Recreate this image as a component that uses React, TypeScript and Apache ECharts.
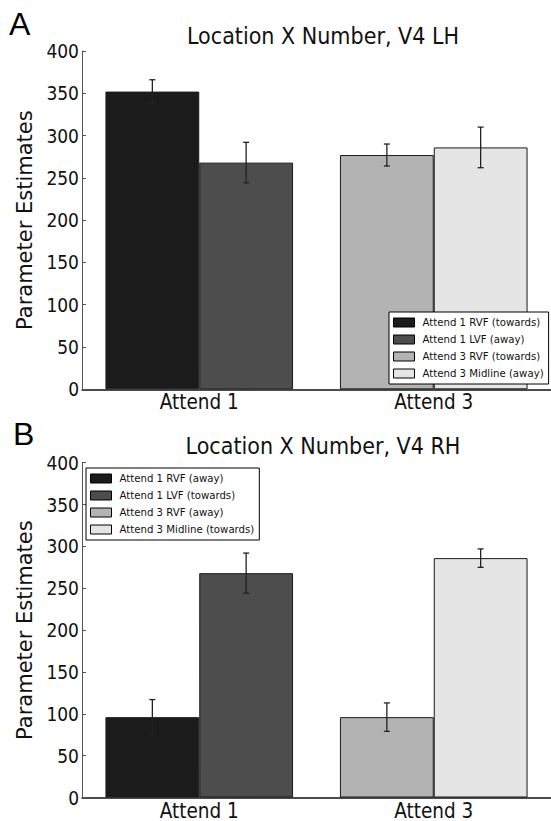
import React, { useEffect, useRef } from "react";
import * as echarts from "echarts";

const categories = ["Attend 1", "Attend 3"];
const yTicks = { min: 0, max: 400, interval: 50 };

// Panel A (V4 LH)
const namesA = [
  "Attend 1 RVF (towards)",
  "Attend 1 LVF (away)",
  "Attend 3 RVF (towards)",
  "Attend 3 Midline (away)",
];
const meansA = [352, 268, 277, 286];
const errsA = [14, 24, 13, 24];

// Panel B (V4 RH)
const namesB = [
  "Attend 1 RVF (away)",
  "Attend 1 LVF (towards)",
  "Attend 3 RVF (away)",
  "Attend 3 Midline (towards)",
];
const meansB = [96, 268, 96, 286];
const errsB = [21, 24, 17, 11];

// which category and which side (left=-1, right=+1) each bar sits on
const barCategory = [0, 0, 1, 1];
const barSide = [-1, 1, -1, 1];
const colors = ["#1b1b1b", "#4d4d4d", "#b3b3b3", "#e5e5e5"];

const COND = "'DejaVu Sans Condensed', 'DejaVu Sans', sans-serif";
const NORM = "'DejaVu Sans', sans-serif";

function buildPanel(idx: number, names: string[], means: number[], errs: number[]) {
  const series: any[] = names.map((name, i) => {
    const data: any[] = categories.map((_, c) => (c === barCategory[i] ? means[i] : "-"));
    return {
      name,
      type: "bar",
      xAxisIndex: idx,
      yAxisIndex: idx,
      stack: `p${idx}_${barSide[i] < 0 ? "L" : "R"}`,
      data,
      barGap: "0%",
      barCategoryGap: "20%",
      itemStyle: { color: colors[i], borderColor: "#1a1a1a", borderWidth: 1 },
      z: 2,
    };
  });
  const errData = means.map((m, i) => [barCategory[i], m - errs[i], m + errs[i], barSide[i]]);
  series.push({
    type: "custom",
    xAxisIndex: idx,
    yAxisIndex: idx,
    z: 5,
    data: errData,
    encode: { x: 0, y: [1, 2] },
    renderItem: (params: any, api: any) => {
      const c = api.value(0);
      const lo = api.value(1);
      const hi = api.value(2);
      const side = api.value(3);
      const band = api.size([1, 0])[0];
      const pLo = api.coord([c, lo]);
      const pHi = api.coord([c, hi]);
      const x = pLo[0] + side * band * 0.2;
      const cap = 3;
      const st = { stroke: "#222", lineWidth: 1.3 };
      return {
        type: "group",
        children: [
          { type: "line", shape: { x1: x, y1: pLo[1], x2: x, y2: pHi[1] }, style: st },
          { type: "line", shape: { x1: x - cap, y1: pLo[1], x2: x + cap, y2: pLo[1] }, style: st },
          { type: "line", shape: { x1: x - cap, y1: pHi[1], x2: x + cap, y2: pHi[1] }, style: st },
        ],
      };
    },
  });
  return series;
}

export default function App() {
  const ref = useRef<HTMLDivElement>(null);
  useEffect(() => {
    if (!ref.current) return;
    const chart = echarts.init(ref.current, undefined, { renderer: "svg" });
    const grids = [
      { left: 82, right: -2, top: 51, height: 338.3 },
      { left: 82, right: -2, top: 462.7, height: 338 },
    ];
    const xAxis = [0, 1].map((i) => ({
      type: "category",
      gridIndex: i,
      data: categories,
      axisLine: { lineStyle: { color: "#111", width: 1.5 } },
      axisTick: { show: false },
      axisLabel: { fontFamily: COND, fontSize: 20.5, color: "#111", margin: 6, lineHeight: 14 },
    }));
    const yAxis = [0, 1].map((i) => ({
      type: "value",
      gridIndex: i,
      min: yTicks.min,
      max: yTicks.max,
      interval: yTicks.interval,
      name: "Parameter Estimates",
      nameLocation: "middle",
      nameGap: 37,
      nameTextStyle: { fontFamily: NORM, fontSize: 21, color: "#111" },
      axisLine: { show: true, lineStyle: { color: "#555", width: 1 } },
      axisTick: { show: true, inside: true, length: 4, lineStyle: { color: "#555" } },
      axisLabel: { fontFamily: COND, fontSize: 19, color: "#111", margin: 3 },
      splitLine: { show: false },
    }));
    const legendCommon = {
      orient: "vertical",
      backgroundColor: "#fff",
      borderColor: "#000",
      borderWidth: 1,
      borderRadius: 0,
      padding: [4, 5, 4, 4],
      itemGap: 4,
      itemWidth: 21,
      itemHeight: 9,
      icon: "rect",
      itemStyle: { borderColor: "#000", borderWidth: 1 },
      textStyle: { fontFamily: COND, fontSize: 11.3, color: "#111", lineHeight: 13, padding: [0, 0, 0, 3] },
      selectedMode: false,
    };
    chart.setOption({
      animation: false,
      backgroundColor: "#fff",
      title: [
        {
          text: "Location X Number, V4 LH",
          left: 318,
          top: 19,
          textAlign: "center",
          textStyle: { fontFamily: COND, fontSize: 23, fontWeight: "normal", color: "#111" },
        },
        {
          text: "Location X Number, V4 RH",
          left: 318,
          top: 429,
          textAlign: "center",
          textStyle: { fontFamily: COND, fontSize: 23, fontWeight: "normal", color: "#111" },
        },
      ],
      graphic: [
        {
          type: "text",
          left: 9,
          top: 8,
          style: { text: "A", fontFamily: "'Liberation Sans', Arial, sans-serif", fontSize: 32, fill: "#000" },
        },
        {
          type: "text",
          left: 13,
          top: 418,
          style: { text: "B", fontFamily: "'Liberation Sans', Arial, sans-serif", fontSize: 32, fill: "#000" },
        },
      ],
      legend: [
        { ...legendCommon, data: namesA, left: 389, top: 312 },
        { ...legendCommon, data: namesB, left: 86, top: 468 },
      ],
      grid: grids,
      xAxis,
      yAxis,
      series: [...buildPanel(0, namesA, meansA, errsA), ...buildPanel(1, namesB, meansB, errsB)],
    });
    return () => chart.dispose();
  }, []);
  return (
    <div
      ref={ref}
      style={{ position: "absolute", left: 0, top: 0, width: 551, height: 821, background: "#fff" }}
    />
  );
}
